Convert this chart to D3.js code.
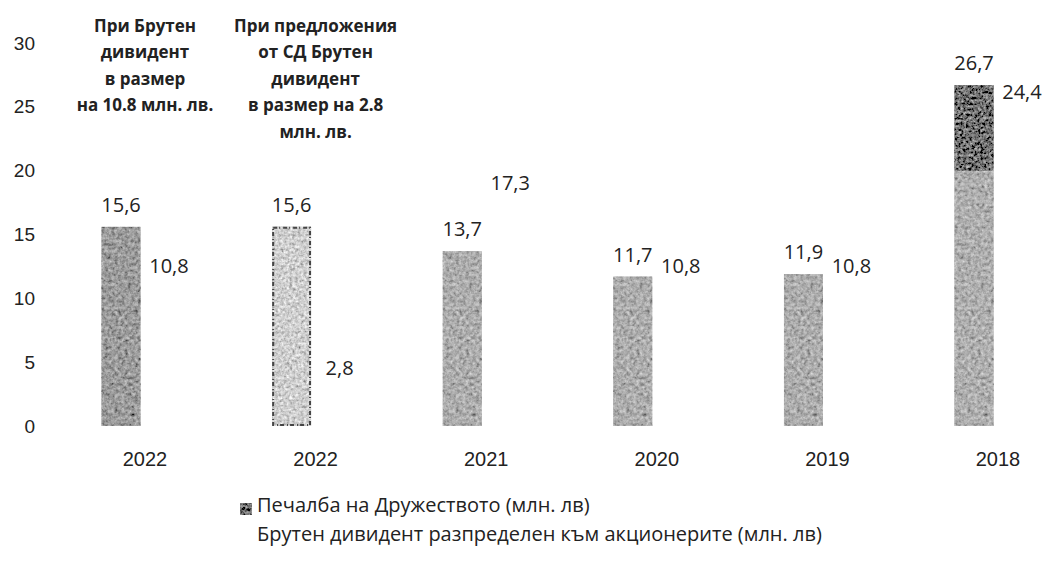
<!DOCTYPE html>
<html>

<head>
    <meta charset="utf-8">
    <style>
        body {
            margin: 0;
            background: #fff;
        }

        svg {
            display: block;
            font-family: 'Open Sans', sans-serif;
        }

        .domain {
            display: none;
        }

        .tick text {
            font-size: 19px;
            fill: #222;
        }

        .x .tick text {
            font-size: 20px;
        }

        .label {
            font-size: 20px;
            fill: #222;
        }

        .note {
            font-size: 17px;
            font-weight: bold;
            fill: #222;
        }

        .legend text {
            font-size: 20px;
            fill: #222;
        }
    </style>
</head>

<body>
    <svg width="1045" height="566"></svg>

    <script src="https://d3js.org/d3.v7.min.js"></script>
    <script>
        // data
        const categories = ["2022", "2022", "2021", "2020", "2019", "2018"];
        const profit = [15.6, 15.6, 13.7, 11.7, 11.9, 26.7];
        const dividend = [10.8, 2.8, 17.3, 10.8, 10.8, 24.4];
        // the 2018 profit bar is printed darker above this value
        const profitDarkFrom = [null, null, null, null, null, 20];
        const yTicks = [0, 5, 10, 15, 20, 25, 30];
        const notes = [
            ["При Брутен", "дивидент", "в размер", "на 10.8 млн. лв."],
            ["При предложения", "от СД Брутен", "дивидент", "в размер на 2.8", "млн. лв."],
            [], [], [], []
        ];
        const legendLabels = [
            "Печалба на Дружеството (млн. лв)",
            "Брутен дивидент разпределен към акционерите (млн. лв)"
        ];

        // styles
        const barFills = ["#9c9c9c", "#d4d4d4", "#adadad", "#adadad", "#adadad", "#afafaf"];
        const darkFill = "#4b4b4b";

        let svg = d3.select("svg");

        let x = d3.scaleBand()
            .domain(d3.range(categories.length))
            .range([59.7, 1083.3]);

        let x1 = d3.scaleBand()
            .domain(["profit", "dividend"])
            .range([-48, 48])
            .paddingInner(0.19)
            .paddingOuter(0.095);

        let y = d3.scaleLinear()
            .domain([0, 30])
            .range([426, 43]);

        // grain filters to mimic the printed texture
        let defs = svg.append("defs");

        function grain(id, freq, k3, k4, seed) {
            let f = defs.append("filter")
                .attr("id", id)
                .attr("x", 0).attr("y", 0)
                .attr("width", "100%").attr("height", "100%");
            f.append("feTurbulence")
                .attr("type", "fractalNoise")
                .attr("baseFrequency", freq)
                .attr("numOctaves", 3)
                .attr("seed", seed)
                .attr("result", "noise");
            f.append("feColorMatrix")
                .attr("in", "noise")
                .attr("type", "matrix")
                .attr("values", "0.33 0.33 0.33 0 0  0.33 0.33 0.33 0 0  0.33 0.33 0.33 0 0  0 0 0 0 1")
                .attr("result", "grey");
            f.append("feComposite")
                .attr("in", "SourceGraphic")
                .attr("in2", "grey")
                .attr("operator", "arithmetic")
                .attr("k1", 0).attr("k2", 1).attr("k3", k3).attr("k4", k4)
                .attr("result", "mix");
            f.append("feComposite")
                .attr("in", "mix")
                .attr("in2", "SourceGraphic")
                .attr("operator", "in");
        }
        grain("grain", 0.3, 1.1, -0.55, 4);
        grain("grainLight", 0.35, 1.5, -0.78, 9);
        grain("grainDark", 0.35, 1.6, -0.7, 2);

        // y axis
        svg.append("g")
            .attr("class", "y axis")
            .attr("transform", "translate(35,0)")
            .call(d3.axisLeft(y).tickValues(yTicks).tickSize(0).tickPadding(0));

        // x axis
        svg.append("g")
            .attr("class", "x axis")
            .attr("transform", `translate(0,${y(0)})`)
            .call(d3.axisBottom(x).tickFormat(i => categories[i]).tickSize(0).tickPadding(26));

        let fmt = v => d3.format(".1f")(v).replace(".", ",");

        let groups = svg.append("g")
            .selectAll("g")
            .data(categories.map((c, i) => i))
            .join("g")
            .attr("transform", i => `translate(${x(i) + x.bandwidth() / 2},0)`);

        // dividend bars are printed white (invisible)
        groups.append("rect")
            .attr("x", x1("dividend"))
            .attr("width", x1.bandwidth())
            .attr("y", i => y(dividend[i]))
            .attr("height", i => y(0) - y(dividend[i]))
            .attr("fill", "#fff");

        groups.append("rect")
            .attr("x", x1("profit"))
            .attr("width", x1.bandwidth())
            .attr("y", i => y(profit[i]))
            .attr("height", i => y(0) - y(profit[i]))
            .attr("fill", i => barFills[i])
            .attr("filter", i => i == 1 ? "url(#grainLight)" : "url(#grain)");

        groups.filter(i => profitDarkFrom[i] != null)
            .append("rect")
            .attr("x", x1("profit"))
            .attr("width", x1.bandwidth())
            .attr("y", i => y(profit[i]))
            .attr("height", i => y(profitDarkFrom[i]) - y(profit[i]))
            .attr("fill", darkFill)
            .attr("filter", "url(#grainDark)");

        // light bar has a darker rim
        groups.filter(i => i == 1)
            .append("rect")
            .attr("x", x1("profit") + 1)
            .attr("width", x1.bandwidth() - 2)
            .attr("y", i => y(profit[i]) + 1)
            .attr("height", i => y(0) - y(profit[i]) - 2)
            .attr("fill", "none")
            .attr("stroke", "#444")
            .attr("stroke-width", 2)
            .attr("stroke-dasharray", "4 2 1 3");

        // value labels
        groups.append("text")
            .attr("class", "label")
            .attr("text-anchor", "middle")
            .attr("x", x1("profit") + x1.bandwidth() / 2)
            .attr("y", i => y(profit[i]) - 15)
            .text(i => fmt(profit[i]));

        groups.append("text")
            .attr("class", "label")
            .attr("text-anchor", "middle")
            .attr("x", x1("dividend") + x1.bandwidth() / 2)
            .attr("y", i => y(dividend[i]) - 15)
            .text(i => fmt(dividend[i]));

        // notes over the first two groups
        groups.append("text")
            .attr("class", "note")
            .attr("text-anchor", "middle")
            .selectAll("tspan")
            .data(i => notes[i])
            .join("tspan")
            .attr("x", 0)
            .attr("y", (d, j) => 31.5 + j * 26.5)
            .text(d => d);

        // legend
        let legend = svg.append("g")
            .attr("class", "legend")
            .attr("transform", "translate(240,0)");

        legend.append("rect")
            .attr("x", 0).attr("y", 503)
            .attr("width", 12).attr("height", 12)
            .attr("fill", "#444")
            .attr("filter", "url(#grainDark)");

        legend.selectAll("text")
            .data(legendLabels)
            .join("text")
            .attr("x", 17)
            .attr("y", (d, i) => 512 + i * 29)
            .text(d => d);
    </script>
</body>

</html>
